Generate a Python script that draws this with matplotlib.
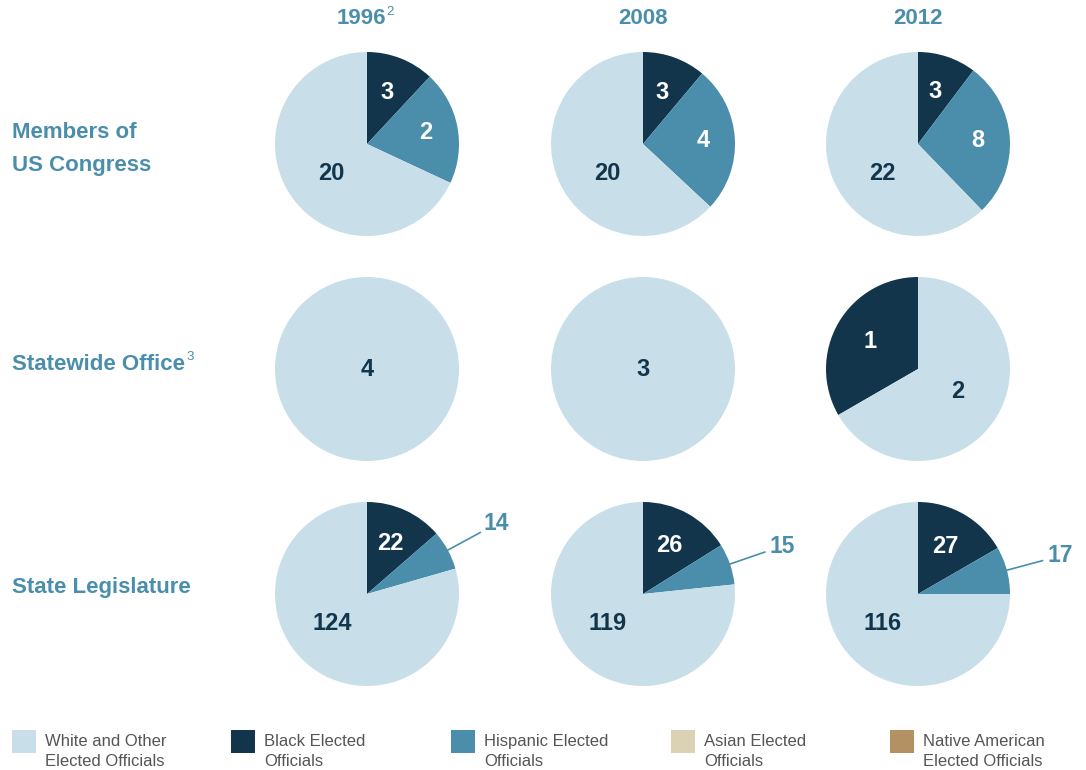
import matplotlib
matplotlib.use('Agg')
import matplotlib.pyplot as plt
import numpy as np
from matplotlib.patches import Rectangle

# columns and rows of the small multiple
years = ['1996', '2008', '2012']
year_notes = ['2', '', '']
offices = ['Members of\nUS Congress', 'Statewide Office', 'State Legislature']
office_notes = ['', '3', '']

# numbers printed on the pies
black_counts = [[3, 3, 3], [0, 0, 1], [22, 26, 27]]
hispanic_counts = [[2, 4, 8], [0, 0, 0], [14, 15, 17]]
white_counts = [[20, 20, 22], [4, 3, 2], [124, 119, 116]]

# slice sizes as drawn (degrees)
black_deg = [[43, 40, 37], [0, 0, 120], [49, 58, 60]]
hispanic_deg = [[72, 93, 99], [0, 0, 0], [25, 26, 30]]
white_deg = [[245, 227, 224], [360, 360, 240], [286, 276, 270]]
clockwise = [[True, True, True], [True, True, False], [True, True, True]]

legend_labels = ['White and Other\nElected Officials', 'Black Elected\nOfficials',
                 'Hispanic Elected\nOfficials', 'Asian Elected\nOfficials',
                 'Native American\nElected Officials']

c_white = '#c8dfe9'
c_black = '#12354b'
c_hisp = '#4a8eab'
c_asian = '#dbd2b3'
c_native = '#b39163'
legend_colors = [c_white, c_black, c_hisp, c_asian, c_native]
title_color = '#4a8eab'

W, H = 1086, 770
col_x = [367, 643, 918]
row_y = [144, 369, 594]
R = 92

plt.rcParams['font.family'] = ['Liberation Sans', 'DejaVu Sans']

fig = plt.figure(figsize=(W / 100, H / 100), dpi=100)
ax = fig.add_axes([0, 0, 1, 1])


def py(y):
    return H - y


def polar(cx, cy, ang, r):
    # ang in matplotlib degrees (counterclockwise from +x)
    a = np.deg2rad(ang)
    return cx + r * np.cos(a), cy + r * np.sin(a)


for i in range(3):
    for j in range(3):
        cx, cy = col_x[j], py(row_y[i])
        parts = [(black_deg[i][j], c_black, black_counts[i][j], 'white', 0.6),
                 (hispanic_deg[i][j], c_hisp, hispanic_counts[i][j], 'white', 0.65),
                 (white_deg[i][j], c_white, white_counts[i][j], c_black, 0.5)]
        parts = [p for p in parts if p[0] > 0]
        sizes = [p[0] for p in parts]
        wedges, _ = ax.pie(sizes, colors=[p[1] for p in parts], startangle=90,
                           counterclock=not clockwise[i][j], center=(cx, cy),
                           radius=R, frame=True,
                           wedgeprops=dict(linewidth=0))
        for w, p in zip(wedges, parts):
            mid = (w.theta1 + w.theta2) / 2
            if len(parts) == 1:
                tx, ty = cx, cy
            elif p[1] == c_white and clockwise[i][j]:
                tx, ty = polar(cx, cy, 90 - 230, 0.5 * R)
            else:
                tx, ty = polar(cx, cy, mid, p[4] * R)
            if p[1] == c_hisp and p[0] < 35:
                x0, y0 = polar(cx, cy, mid, 0.99 * R)
                x1, y1 = polar(cx, cy, mid, 1.4 * R)
                ax.plot([x0, x1], [y0, y1], color=c_hisp, lw=1.2)
                tx, ty = polar(cx, cy, mid, 1.6 * R)
                ax.text(tx, ty, str(p[2]), color=c_hisp, fontsize=16.5,
                        fontweight='bold', ha='center', va='center')
            else:
                ax.text(tx, ty, str(p[2]), color=p[3], fontsize=17,
                        fontweight='bold', ha='center', va='center')

# column titles
for j, yr in enumerate(years):
    x = col_x[j] - 6 if year_notes[j] else col_x[j]
    ax.text(x, py(18), yr, color=title_color, fontsize=16,
            fontweight='bold', ha='center', va='center')
    if year_notes[j]:
        ax.text(x + 25, py(12), year_notes[j], color=title_color,
                fontsize=9.5, ha='left', va='center')

# row titles
row_text_y = [149, 364, 588]
for i, name in enumerate(offices):
    ax.text(12, py(row_text_y[i]), name, color=title_color, fontsize=16,
            fontweight='bold', ha='left', va='center', linespacing=1.75)
    if office_notes[i]:
        ax.text(186, py(357), office_notes[i], color=title_color,
                fontsize=9.5, ha='left', va='center')

# legend
leg_x = [12, 231, 451, 671, 890]
for k, lab in enumerate(legend_labels):
    ax.add_patch(Rectangle((leg_x[k], py(753)), 24, 23, color=legend_colors[k], lw=0))
    ax.text(leg_x[k] + 33, py(734), lab, color='#555555', fontsize=12,
            ha='left', va='top', linespacing=1.4)

ax.set_xlim(0, W)
ax.set_ylim(0, H)
ax.set_aspect('auto')
ax.axis('off')

fig.savefig('out.png', dpi=100, facecolor='white')
